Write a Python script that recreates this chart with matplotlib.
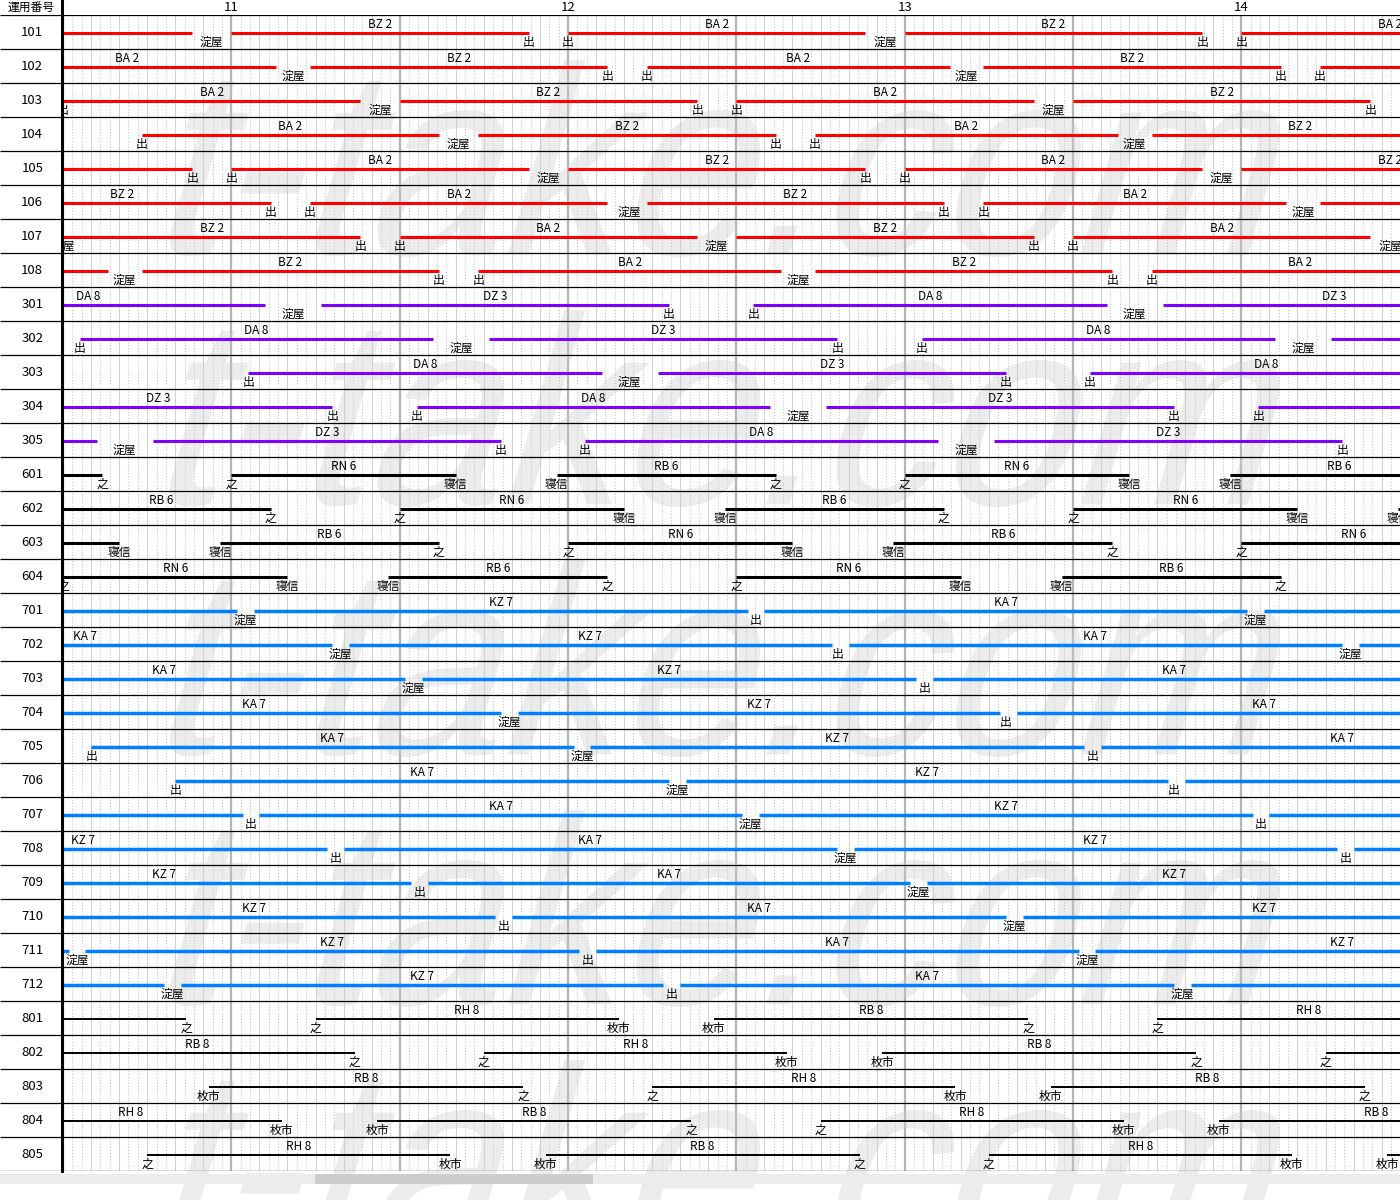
import numpy as np
import matplotlib
matplotlib.use('Agg')
import matplotlib.pyplot as plt
from matplotlib.textpath import TextPath
from matplotlib.font_manager import FontProperties
from matplotlib.patches import PathPatch, Rectangle
from matplotlib.lines import Line2D
from matplotlib.transforms import Affine2D

plt.rcParams['font.family'] = ['Noto Sans CJK JP', 'DejaVu Sans']

# ==== 運用データ (発, 着, 列車記号) と 駅名表示 (時刻, 駅) ====

rows = ['101', '102', '103', '104', '105', '106', '107', '108',
        '301', '302', '303', '304', '305',
        '601', '602', '603', '604',
        '701', '702', '703', '704', '705', '706', '707', '708', '709', '710', '711', '712',
        '801', '802', '803', '804', '805']
hours = [11, 12, 13, 14]

# 1xx 出町柳 - 淀屋橋
trips_101 = [('10:00', '10:53', 'BA 2'), ('11:00', '11:53', 'BZ 2'), ('12:00', '12:53', 'BA 2'), ('13:00', '13:53', 'BZ 2'), ('14:00', '14:53', 'BA 2')]
stops_101 = [('10:56.5', '淀屋'), ('11:53', '出'), ('12:00', '出'), ('12:56.5', '淀屋'), ('13:53', '出'), ('14:00', '出')]
trips_102 = [('10:15', '11:08', 'BA 2'), ('11:14', '12:07', 'BZ 2'), ('12:14', '13:08', 'BA 2'), ('13:14', '14:07', 'BZ 2'), ('14:14', '15:07', 'BA 2')]
stops_102 = [('11:11', '淀屋'), ('12:07', '出'), ('12:14', '出'), ('13:11', '淀屋'), ('14:07', '出'), ('14:14', '出')]
trips_103 = [('10:30', '11:23', 'BA 2'), ('11:30', '12:23', 'BZ 2'), ('12:30', '13:23', 'BA 2'), ('13:30', '14:23', 'BZ 2'), ('14:30', '15:23', 'BA 2')]
stops_103 = [('10:30', '出'), ('11:26.5', '淀屋'), ('12:23', '出'), ('12:30', '出'), ('13:26.5', '淀屋'), ('14:23', '出'), ('14:30', '出')]
trips_104 = [('10:44', '11:37', 'BA 2'), ('11:44', '12:37', 'BZ 2'), ('12:44', '13:38', 'BA 2'), ('13:44', '14:37', 'BZ 2')]
stops_104 = [('10:44', '出'), ('11:40.5', '淀屋'), ('12:37', '出'), ('12:44', '出'), ('13:41', '淀屋')]
trips_105 = [('10:00', '10:53', 'BZ 2'), ('11:00', '11:53', 'BA 2'), ('12:00', '12:53', 'BZ 2'), ('13:00', '13:53', 'BA 2'), ('14:00', '14:53', 'BZ 2')]
stops_105 = [('10:53', '出'), ('11:00', '出'), ('11:56.5', '淀屋'), ('12:53', '出'), ('13:00', '出'), ('13:56.5', '淀屋')]
trips_106 = [('10:14', '11:07', 'BZ 2'), ('11:14', '12:07', 'BA 2'), ('12:14', '13:07', 'BZ 2'), ('13:14', '14:08', 'BA 2'), ('14:14', '15:07', 'BZ 2')]
stops_106 = [('11:07', '出'), ('11:14', '出'), ('12:11', '淀屋'), ('13:07', '出'), ('13:14', '出'), ('14:11', '淀屋')]
trips_107 = [('10:30', '11:23', 'BZ 2'), ('11:30', '12:23', 'BA 2'), ('12:30', '13:23', 'BZ 2'), ('13:30', '14:23', 'BA 2'), ('14:30', '15:23', 'BZ 2')]
stops_107 = [('10:30', '淀屋'), ('11:23', '出'), ('11:30', '出'), ('12:26.5', '淀屋'), ('13:23', '出'), ('13:30', '出'), ('14:26.5', '淀屋')]
trips_108 = [('9:45', '10:38', 'BA 2'), ('10:44', '11:37', 'BZ 2'), ('11:44', '12:38', 'BA 2'), ('12:44', '13:37', 'BZ 2'), ('13:44', '14:37', 'BA 2')]
stops_108 = [('10:41', '淀屋'), ('11:37', '出'), ('11:44', '出'), ('12:41', '淀屋'), ('13:37', '出'), ('13:44', '出')]

# 3xx
trips_301 = [('10:03', '11:06', 'DA 8'), ('11:16', '12:18', 'DZ 3'), ('12:33', '13:36', 'DA 8'), ('13:46', '14:47', 'DZ 3')]
stops_301 = [('11:11', '淀屋'), ('12:18', '出'), ('12:33', '出'), ('13:41', '淀屋')]
trips_302 = [('10:33', '11:36', 'DA 8'), ('11:46', '12:48', 'DZ 3'), ('13:03', '14:06', 'DA 8'), ('14:16', '15:18', 'DZ 3')]
stops_302 = [('10:33', '出'), ('11:41', '淀屋'), ('12:48', '出'), ('13:03', '出'), ('14:11', '淀屋')]
trips_303 = [('11:03', '12:06', 'DA 8'), ('12:16', '13:18', 'DZ 3'), ('13:33', '14:36', 'DA 8')]
stops_303 = [('11:03', '出'), ('12:11', '淀屋'), ('13:18', '出'), ('13:33', '出')]
trips_304 = [('10:16', '11:18', 'DZ 3'), ('11:33', '12:36', 'DA 8'), ('12:46', '13:48', 'DZ 3'), ('14:03', '15:06', 'DA 8')]
stops_304 = [('11:18', '出'), ('11:33', '出'), ('12:41', '淀屋'), ('13:48', '出'), ('14:03', '出')]
trips_305 = [('9:33', '10:36', 'DA 8'), ('10:46', '11:48', 'DZ 3'), ('12:03', '13:06', 'DA 8'), ('13:16', '14:18', 'DZ 3')]
stops_305 = [('10:41', '淀屋'), ('11:48', '出'), ('12:03', '出'), ('13:11', '淀屋'), ('14:18', '出')]

# 6xx 中之島 - 寝屋川信号所
trips_601 = [('9:58', '10:37', 'RB 6'), ('11:00', '11:40', 'RN 6'), ('11:58', '12:37', 'RB 6'), ('13:00', '13:40', 'RN 6'), ('13:58', '14:37', 'RB 6')]
stops_601 = [('10:37', '之'), ('11:00', '之'), ('11:40', '寝信'), ('11:58', '寝信'), ('12:37', '之'), ('13:00', '之'), ('13:40', '寝信'), ('13:58', '寝信')]
trips_602 = [('10:28', '11:07', 'RB 6'), ('11:30', '12:10', 'RN 6'), ('12:28', '13:07', 'RB 6'), ('13:30', '14:10', 'RN 6'), ('14:28', '15:07', 'RB 6')]
stops_602 = [('11:07', '之'), ('11:30', '之'), ('12:10', '寝信'), ('12:28', '寝信'), ('13:07', '之'), ('13:30', '之'), ('14:10', '寝信'), ('14:28', '寝信')]
trips_603 = [('10:00', '10:40', 'RN 6'), ('10:58', '11:37', 'RB 6'), ('12:00', '12:40', 'RN 6'), ('12:58', '13:37', 'RB 6'), ('14:00', '14:40', 'RN 6')]
stops_603 = [('10:40', '寝信'), ('10:58', '寝信'), ('11:37', '之'), ('12:00', '之'), ('12:40', '寝信'), ('12:58', '寝信'), ('13:37', '之'), ('14:00', '之')]
trips_604 = [('10:30', '11:10', 'RN 6'), ('11:28', '12:07', 'RB 6'), ('12:30', '13:10', 'RN 6'), ('13:28', '14:07', 'RB 6'), ('14:30', '15:10', 'RN 6')]
stops_604 = [('10:30', '之'), ('11:10', '寝信'), ('11:28', '寝信'), ('12:07', '之'), ('12:30', '之'), ('13:10', '寝信'), ('13:28', '寝信'), ('14:07', '之')]

# 7xx
trips_701 = [('9:35', '11:01', 'KA 7'), ('11:04', '12:32', 'KZ 7'), ('12:35', '14:01', 'KA 7'), ('14:04', '15:32', 'KZ 7')]
stops_701 = [('11:02.5', '淀屋'), ('12:33.5', '出'), ('14:02.5', '淀屋')]
trips_702 = [('9:50', '11:18', 'KA 7'), ('11:21', '12:47', 'KZ 7'), ('12:50', '14:18', 'KA 7'), ('14:21', '15:47', 'KZ 7')]
stops_702 = [('11:19.5', '淀屋'), ('12:48', '出'), ('14:19.5', '淀屋')]
trips_703 = [('10:05', '11:31', 'KA 7'), ('11:34', '13:02', 'KZ 7'), ('13:05', '14:31', 'KA 7')]
stops_703 = [('11:32.5', '淀屋'), ('13:03.5', '出')]
trips_704 = [('10:20', '11:48', 'KA 7'), ('11:51', '13:17', 'KZ 7'), ('13:20', '14:48', 'KA 7')]
stops_704 = [('11:49.5', '淀屋'), ('13:18', '出')]
trips_705 = [('10:35', '12:01', 'KA 7'), ('12:04', '13:32', 'KZ 7'), ('13:35', '15:01', 'KA 7')]
stops_705 = [('10:35', '出'), ('12:02.5', '淀屋'), ('13:33.5', '出')]
trips_706 = [('10:50', '12:18', 'KA 7'), ('12:21', '13:47', 'KZ 7'), ('13:50', '15:16', 'KA 7')]
stops_706 = [('10:50', '出'), ('12:19.5', '淀屋'), ('13:48', '出')]
trips_707 = [('9:34', '11:02', 'KZ 7'), ('11:05', '12:31', 'KA 7'), ('12:34', '14:02', 'KZ 7'), ('14:05', '15:31', 'KA 7')]
stops_707 = [('11:03.5', '出'), ('12:32.5', '淀屋'), ('14:03.5', '出')]
trips_708 = [('9:50', '11:17', 'KZ 7'), ('11:20', '12:48', 'KA 7'), ('12:51', '14:17', 'KZ 7'), ('14:20', '15:48', 'KA 7')]
stops_708 = [('11:18.5', '出'), ('12:49.5', '淀屋'), ('14:18.5', '出')]
trips_709 = [('10:04', '11:32', 'KZ 7'), ('11:35', '13:01', 'KA 7'), ('13:04', '14:32', 'KZ 7')]
stops_709 = [('11:33.5', '出'), ('13:02.5', '淀屋')]
trips_710 = [('10:21', '11:47', 'KZ 7'), ('11:50', '13:18', 'KA 7'), ('13:21', '14:47', 'KZ 7')]
stops_710 = [('11:48.5', '出'), ('13:19.5', '淀屋')]
trips_711 = [('9:05', '10:31', 'KA 7'), ('10:34', '12:02', 'KZ 7'), ('12:05', '13:31', 'KA 7'), ('13:34', '15:02', 'KZ 7')]
stops_711 = [('10:32.5', '淀屋'), ('12:03.5', '出'), ('13:32.5', '淀屋')]
trips_712 = [('9:20', '10:48', 'KA 7'), ('10:51', '12:17', 'KZ 7'), ('12:20', '13:48', 'KA 7'), ('13:51', '15:17', 'KZ 7')]
stops_712 = [('10:49.5', '淀屋'), ('12:18.5', '出'), ('13:49.5', '淀屋')]

# 8xx 中之島 - 枚方市
trips_801 = [('9:56', '10:52', 'RB 8'), ('11:15', '12:09', 'RH 8'), ('12:26', '13:22', 'RB 8'), ('13:45', '14:39', 'RH 8')]
stops_801 = [('10:52', '之'), ('11:15', '之'), ('12:09', '枚市'), ('12:26', '枚市'), ('13:22', '之'), ('13:45', '之')]
trips_802 = [('10:26', '11:22', 'RB 8'), ('11:45', '12:39', 'RH 8'), ('12:56', '13:52', 'RB 8'), ('14:15', '15:09', 'RH 8')]
stops_802 = [('11:22', '之'), ('11:45', '之'), ('12:39', '枚市'), ('12:56', '枚市'), ('13:52', '之'), ('14:15', '之')]
trips_803 = [('10:56', '11:52', 'RB 8'), ('12:15', '13:09', 'RH 8'), ('13:26', '14:22', 'RB 8')]
stops_803 = [('10:56', '枚市'), ('11:52', '之'), ('12:15', '之'), ('13:09', '枚市'), ('13:26', '枚市'), ('14:22', '之')]
trips_804 = [('10:15', '11:09', 'RH 8'), ('11:26', '12:22', 'RB 8'), ('12:45', '13:39', 'RH 8'), ('13:56', '14:52', 'RB 8')]
stops_804 = [('11:09', '枚市'), ('11:26', '枚市'), ('12:22', '之'), ('12:45', '之'), ('13:39', '枚市'), ('13:56', '枚市')]
trips_805 = [('10:45', '11:39', 'RH 8'), ('11:56', '12:52', 'RB 8'), ('13:15', '14:09', 'RH 8'), ('14:26', '15:22', 'RB 8')]
stops_805 = [('10:45', '之'), ('11:39', '枚市'), ('11:56', '枚市'), ('12:52', '之'), ('13:15', '之'), ('14:09', '枚市'), ('14:26', '枚市')]

trips_by_row = [trips_101, trips_102, trips_103, trips_104, trips_105, trips_106, trips_107, trips_108,
                trips_301, trips_302, trips_303, trips_304, trips_305,
                trips_601, trips_602, trips_603, trips_604,
                trips_701, trips_702, trips_703, trips_704, trips_705, trips_706,
                trips_707, trips_708, trips_709, trips_710, trips_711, trips_712,
                trips_801, trips_802, trips_803, trips_804, trips_805]
stops_by_row = [stops_101, stops_102, stops_103, stops_104, stops_105, stops_106, stops_107, stops_108,
                stops_301, stops_302, stops_303, stops_304, stops_305,
                stops_601, stops_602, stops_603, stops_604,
                stops_701, stops_702, stops_703, stops_704, stops_705, stops_706,
                stops_707, stops_708, stops_709, stops_710, stops_711, stops_712,
                stops_801, stops_802, stops_803, stops_804, stops_805]

# 系統ごとの線の色と太さ
line_color = {'1': '#ff0000', '3': '#8000ff', '6': '#000000', '7': '#0080ff', '8': '#000000'}
line_width = {'1': 2.2, '3': 2.2, '6': 2.2, '7': 2.5, '8': 1.4}


def to_min(s):
    h, m = s.split(':')
    return int(h) * 60 + float(m)


# ==== 図の作成 ====
W, H = 1400, 1200
LEFT, TOP, BOTTOM = 63, 15, 1171
PX_PER_MIN = 336.67 / 60
T0 = 10 * 60 + 30
T1 = T0 + (W - LEFT) / PX_PER_MIN
n = len(rows)

fig = plt.figure(figsize=(W / 100, H / 100), dpi=100)
ax = fig.add_axes([LEFT / W, 1 - BOTTOM / H, 1 - LEFT / W, (BOTTOM - TOP) / H])
ax.set_xlim(T0, T1)
ax.set_ylim(n, 0)
ax.set_axis_off()

# 方眼 (点線・5分・30分)
fine = np.arange(T0, T1, 5 / 3)
fine = fine[np.abs(fine / 5 - np.round(fine / 5)) > 0.05]
ax.vlines(fine, 0, n, colors='#bdbdbd', linewidth=0.7, linestyles=(0, (1, 2)), zorder=0.5)
ax.vlines(np.arange(T0, T1, 5), 0, n, colors='#d2d2d2', linewidth=0.8, zorder=0.6)
ax.vlines(np.arange(T0, T1, 30), 0, n, colors='#b4b4b4', linewidth=1.6, zorder=0.7)

# 透かし
fp = FontProperties(family=['Liberation Sans', 'DejaVu Sans'])
wm = TextPath((0, 0), 't-take.com', size=1, prop=fp)
wm = Affine2D().skew_deg(18, 0).transform_path(wm)
ext = wm.get_extents()
for base in [257, 507, 757, 1007, 1257]:
    tr = (Affine2D().translate(-ext.x0, -ext.y0)
          .scale((1280 - 170) / ext.width, 197 / ext.height)
          .translate(170, H - base).scale(1 / 100) + fig.dpi_scale_trans)
    ax.add_patch(PathPatch(wm, transform=tr, facecolor='#cccccc', edgecolor='none',
                           alpha=0.36, zorder=1.5, clip_on=False))

# 行の区切り
ax.hlines(np.arange(n + 1), T0, T1, colors='black', linewidth=0.9, zorder=2)

# 運用線 (画面外に中心がある文字は描かない)
for i, (name, trips, stops) in enumerate(zip(rows, trips_by_row, stops_by_row)):
    g = name[0]
    for s, e, code in trips:
        a, b = to_min(s), to_min(e)
        ax.plot([a, b], [i + 0.53, i + 0.53], color=line_color[g], lw=line_width[g],
                solid_capstyle='butt', zorder=3)
        c = (a + b) / 2
        if T0 - 0.5 <= c <= T1:
            ax.text(c, i + 0.265, code, ha='center', va='center', fontsize=8.5,
                    clip_on=True, zorder=4)
    for t, st in stops:
        tm = to_min(t)
        if T0 - 0.5 <= tm <= T1:
            ax.text(tm, i + 0.80, st, ha='center', va='center', fontsize=8.5,
                    clip_on=True, zorder=4)

# 時刻 (見出し)
for h in hours:
    ax.text(h * 60, -7.5 / 34, str(h), ha='center', va='center', fontsize=9.5, clip_on=False)

# 運用番号の列
axl = fig.add_axes([0, 1 - BOTTOM / H, (LEFT - 1) / W, (BOTTOM - TOP) / H])
axl.set_xlim(0, 1)
axl.set_ylim(n, 0)
axl.set_axis_off()
axl.hlines(np.arange(n + 1), 0, 1, colors='black', linewidth=0.9)
for i, name in enumerate(rows):
    axl.text(0.52, i + 0.5, name, ha='center', va='center', fontsize=9.5)
fig.text(31 / W, 1 - 7.5 / H, '運用番号', ha='center', va='center', fontsize=8.5)
fig.add_artist(Line2D([61.5 / W, 61.5 / W], [1 - BOTTOM / H, 1], color='black', lw=2.2))

# 下のスクロールバー
fig.add_artist(Rectangle((0, 1 - 1184 / H), 1, 10 / H, transform=fig.transFigure,
                         facecolor='#ececec', edgecolor='none'))
fig.add_artist(Rectangle((315 / W, 1 - 1184 / H), 278 / W, 10 / H, transform=fig.transFigure,
                         facecolor='#cdcdcd', edgecolor='none'))

fig.savefig('out.png', dpi=100)
